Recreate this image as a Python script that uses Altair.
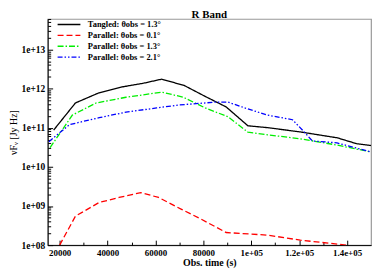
import altair as alt
import pandas as pd

# ---- data ----
series_names = ["Tangled: θobs = 1.3°", "Parallel: θobs = 0.1°",
                "Parallel: θobs = 1.3°", "Parallel: θobs = 2.1°"]

t_tangled = [17500, 26600, 36000, 46000, 55000, 62600, 72000, 81000, 89500,
             98600, 107000, 120500, 136000, 144000, 150000]
f_tangled = [8.7e10, 4.3e11, 7.6e11, 1.1e12, 1.37e12, 1.74e12, 1.2e12, 6.2e11,
             3.4e11, 1.12e11, 1.0e11, 7.8e10, 5.5e10, 3.9e10, 3.5e10]

t_par01 = [20000, 26600, 36500, 44800, 53900, 61300, 70900, 79100, 89500,
           106800, 120500, 140000]
f_par01 = [1e8, 5.5e8, 1.23e9, 1.65e9, 2.2e9, 1.65e9, 8.2e8, 4.6e8, 2.1e8,
           1.8e8, 1.34e8, 1e8]

t_par13 = [16000, 25300, 35300, 47700, 62600, 71700, 80800, 90300, 98600,
           106800, 120500, 135800, 150000]
f_par13 = [3.1e10, 2.1e11, 4.3e11, 6e11, 8.1e11, 6e11, 3.2e11, 1.9e11, 7.7e10,
           6.6e10, 5.2e10, 3.6e10, 2.4e10]

t_par21 = [15500, 24100, 36500, 47700, 60500, 69600, 84900, 90300, 97300,
           106800, 117200, 122200, 125500, 135800, 150000]
f_par21 = [4.4e10, 1.2e11, 1.8e11, 2.5e11, 3.2e11, 3.8e11, 4.5e11, 4.5e11,
           3.2e11, 2.1e11, 1.6e11, 7.7e10, 4.6e10, 4.1e10, 2.4e10]

x_major = [20000, 40000, 60000, 80000, 100000, 120000, 140000]
x_major_labels = ["20000", "40000", "60000", "80000", "1e+05", "1.2e+05", "1.4e+05"]
x_minor = [30000, 50000, 70000, 90000, 110000, 130000]

y_major = [1e8, 1e9, 1e10, 1e11, 1e12, 1e13]
y_major_labels = ["1e+08", "1e+09", "1e+10", "1e+11", "1e+12", "1e+13"]
y_minor = [m * 10 ** e for e in range(8, 14) for m in range(2, 10)]

colors = ["#000000", "#ff0000", "#00ee00", "#0000ff"]
dashes = [[1, 0], [6, 3], [6, 2, 1.5, 2], [5, 2, 1.5, 2, 1.5, 2]]

rows = []
for name, ts, fs in zip(series_names,
                        [t_tangled, t_par01, t_par13, t_par21],
                        [f_tangled, f_par01, f_par13, f_par21]):
    for t, f in zip(ts, fs):
        rows.append({"series": name, "t": t, "f": f})
df = pd.DataFrame(rows)

W, H = 326, 228
XDOM = [15000, 150000]
YDOM = [1e8, 6e13]
SERIF = "Liberation Serif"


def label_expr(values, labels):
    parts = " : ".join(f"datum.value == {v} ? '{l}'" for v, l in zip(values, labels))
    return parts + " : ''"


def legend():
    return alt.Legend(title=None, orient="none", legendX=15, legendY=-1,
                      symbolType="M-2,0H2", symbolSize=132,
                      symbolStrokeWidth=1.4, labelFont=SERIF,
                      labelFontSize=8.5, labelFontWeight="bold",
                      labelColor="#000", labelOffset=12.5,
                      rowPadding=-2.5, padding=0)


xs = alt.Scale(domain=XDOM, nice=False, zero=False)
ys = alt.Scale(type="log", domain=YDOM, nice=False)

lines = alt.Chart(df).mark_line(strokeWidth=1.3, clip=True).encode(
    x=alt.X("t:Q", scale=xs, title="Obs. time (s)",
            axis=alt.Axis(values=x_major, labelExpr=label_expr(x_major, x_major_labels),
                          ticks=False, labelPadding=3, titlePadding=1,
                          labelFont=SERIF, labelFontWeight="bold", labelFontSize=9,
                          titleFont=SERIF, titleFontWeight="bold", titleFontSize=10,
                          titleColor="#000", labelColor="#000",
                          domainColor="#000", grid=False, labelFlush=False)),
    y=alt.Y("f:Q", scale=ys, title="νFᵥ [Jy Hz]",
            axis=alt.Axis(values=y_major, labelExpr=label_expr(y_major, y_major_labels),
                          ticks=False, labelPadding=3, titlePadding=3,
                          labelFont=SERIF, labelFontWeight="bold", labelFontSize=9.5,
                          titleFont=SERIF, titleFontWeight="normal", titleFontSize=10,
                          titleColor="#000", labelColor="#000",
                          domainColor="#000", grid=False)),
    color=alt.Color("series:N", sort=series_names,
                    scale=alt.Scale(domain=series_names, range=colors),
                    legend=legend()),
    strokeDash=alt.StrokeDash("series:N", sort=series_names,
                              scale=alt.Scale(domain=series_names, range=dashes),
                              legend=legend()),
)


def tick_layer(xvals, yvals, xsize, ysize):
    return alt.Chart(df).mark_point(opacity=0).encode(
        x=alt.X("t:Q", scale=xs,
                axis=alt.Axis(orient="top", offset=-H, values=xvals, labels=False,
                              domain=False, grid=False, title=None,
                              tickSize=xsize, tickColor="#000")),
        y=alt.Y("f:Q", scale=ys,
                axis=alt.Axis(orient="right", offset=-W, values=yvals, labels=False,
                              domain=False, grid=False, title=None,
                              tickSize=ysize, tickColor="#000")),
    )


major = tick_layer(x_major, y_major, 5, 5)
minor = tick_layer(x_minor, y_minor, 3, 3)

chart = alt.layer(lines, major, minor).resolve_scale(
    x="independent", y="independent"
).properties(
    width=W, height=H,
    title=alt.TitleParams("R Band", font=SERIF, fontSize=11, fontWeight="bold",
                          anchor="middle", offset=-2, color="#000"),
    padding={"left": 0, "top": 0, "right": 0, "bottom": 0},
).configure_view(stroke="#999999", strokeWidth=1.2)

chart.save("out.html", embed_options={"renderer": "svg", "actions": False})
